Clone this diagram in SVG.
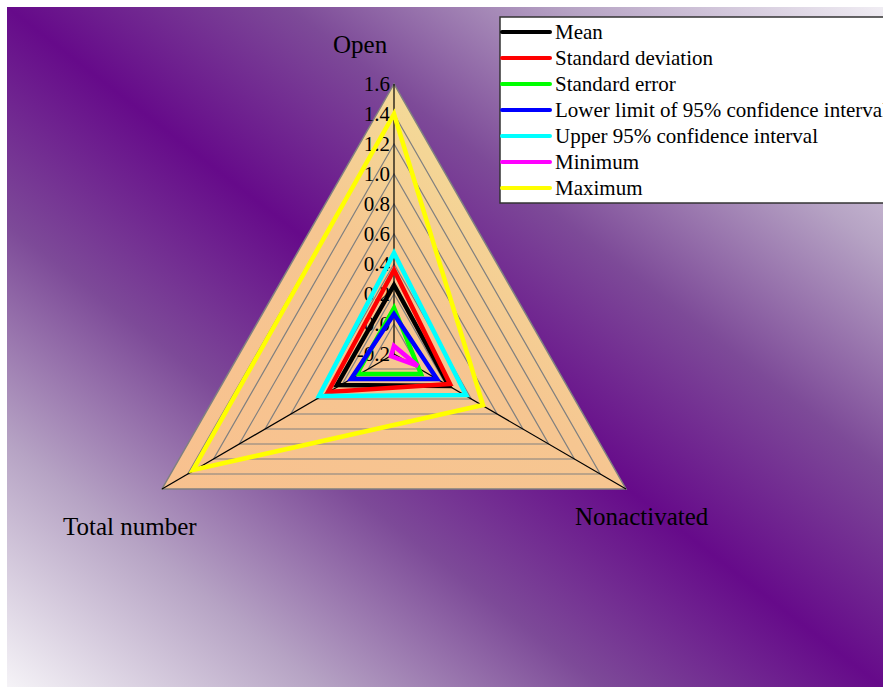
<svg xmlns="http://www.w3.org/2000/svg" width="883" height="687" viewBox="0 0 883 687">
<defs>
<linearGradient id="bg" x1="1" y1="0" x2="0" y2="1">
<stop offset="0" stop-color="#f0edf3"/>
<stop offset="0.18" stop-color="#b6a3c4"/>
<stop offset="0.34" stop-color="#7d4a98"/>
<stop offset="0.5" stop-color="#660a8a"/>
<stop offset="0.66" stop-color="#7d4a98"/>
<stop offset="0.82" stop-color="#b6a3c4"/>
<stop offset="1" stop-color="#f5f3f7"/>
</linearGradient>
<linearGradient id="tri" x1="0" y1="1" x2="1" y2="0">
<stop offset="0" stop-color="#f8c18f"/>
<stop offset="0.5" stop-color="#f6c691"/>
<stop offset="1" stop-color="#f1ee9e"/>
</linearGradient>
<style>
.grid{fill:none;stroke:#808080;stroke-width:1.2}
.axis{stroke:#000;stroke-width:1.2}
.tick{font-family:"Liberation Serif","Times New Roman",serif;font-size:21px;fill:#000;text-anchor:end}
.lab{font-family:"Liberation Serif","Times New Roman",serif;font-size:25px;fill:#000}
.leg{font-family:"Liberation Serif","Times New Roman",serif;font-size:21px;fill:#000}
.s{fill:none;stroke-width:4.5;stroke-linejoin:miter}
.ls{stroke-width:4;stroke-linecap:round}
</style>
</defs>
<rect x="0" y="0" width="883" height="687" fill="#ffffff"/>
<rect x="7" y="7" width="876" height="680" fill="url(#bg)"/>
<g id="chart-area">
<polygon points="394,84 162,489 626,489" fill="url(#tri)" stroke="#808080" stroke-width="1.5"/>
<g id="grid">
<polygon class="grid" points="394,324 368.2,369 419.8,369"/>
<polygon class="grid" points="394,294 342.4,384 445.6,384"/>
<polygon class="grid" points="394,264 316.7,399 471.3,399"/>
<polygon class="grid" points="394,234 290.9,414 497.1,414"/>
<polygon class="grid" points="394,204 265.1,429 522.9,429"/>
<polygon class="grid" points="394,174 239.3,444 548.7,444"/>
<polygon class="grid" points="394,144 213.6,459 574.4,459"/>
<polygon class="grid" points="394,114 187.8,474 600.2,474"/>
</g>
<g id="tick-labels">
<text class="tick" x="390" y="91">1.6</text>
<text class="tick" x="390" y="121">1.4</text>
<text class="tick" x="390" y="151">1.2</text>
<text class="tick" x="390" y="181">1.0</text>
<text class="tick" x="390" y="211">0.8</text>
<text class="tick" x="390" y="241">0.6</text>
<text class="tick" x="390" y="271">0.4</text>
<text class="tick" x="390" y="301">0.2</text>
<text class="tick" x="390" y="331">0.0</text>
<text class="tick" x="390" y="361">-0.2</text>
</g>
<g id="axes">
<line class="axis" x1="394" y1="354" x2="394" y2="84"/>
<line class="axis" x1="394" y1="354" x2="162" y2="489"/>
<line class="axis" x1="394" y1="354" x2="626" y2="489"/>
</g>
</g>
<g id="axis-labels">
<text id="label-open" class="lab" x="333" y="53">Open</text>
<text id="label-total" class="lab" x="63" y="535">Total number</text>
<text id="label-nonactivated" class="lab" x="575" y="525">Nonactivated</text>
</g>
<g id="series">
<polygon id="s-mean" class="s" stroke="#000000" points="394,285 337,385 449,386"/>
<polygon id="s-sd" class="s" stroke="#ff0000" points="394,270 328,392 450,384"/>
<polygon id="s-se" class="s" stroke="#00ff00" points="394,308 357,374 421,374"/>
<polygon id="s-lower" class="s" stroke="#0000ff" points="394,314 351,379 437,379"/>
<polygon id="s-upper" class="s" stroke="#00ffff" points="394,253 319,396 466,395"/>
<polygon id="s-min" class="s" stroke="#ff00ff" points="394,346 391,356 418,366"/>
<polygon id="s-max" class="s" stroke="#ffff00" points="394,114 193,470 483,405"/>
</g>
<g id="legend">
<rect x="500" y="17" width="390" height="186" fill="#ffffff" stroke="#333333" stroke-width="1.5"/>
<line class="ls" x1="502" y1="32" x2="550" y2="32" stroke="#000000"/>
<text class="leg" x="555" y="39">Mean</text>
<line class="ls" x1="502" y1="58" x2="550" y2="58" stroke="#ff0000"/>
<text class="leg" x="555" y="65">Standard deviation</text>
<line class="ls" x1="502" y1="84" x2="550" y2="84" stroke="#00ff00"/>
<text class="leg" x="555" y="91">Standard error</text>
<line class="ls" x1="502" y1="110" x2="550" y2="110" stroke="#0000ff"/>
<text class="leg" x="555" y="117">Lower limit of 95% confidence interval</text>
<line class="ls" x1="502" y1="136" x2="550" y2="136" stroke="#00ffff"/>
<text class="leg" x="555" y="143">Upper 95% confidence interval</text>
<line class="ls" x1="502" y1="162" x2="550" y2="162" stroke="#ff00ff"/>
<text class="leg" x="555" y="169">Minimum</text>
<line class="ls" x1="502" y1="188" x2="550" y2="188" stroke="#ffff00"/>
<text class="leg" x="555" y="195">Maximum</text>
</g>
</svg>
